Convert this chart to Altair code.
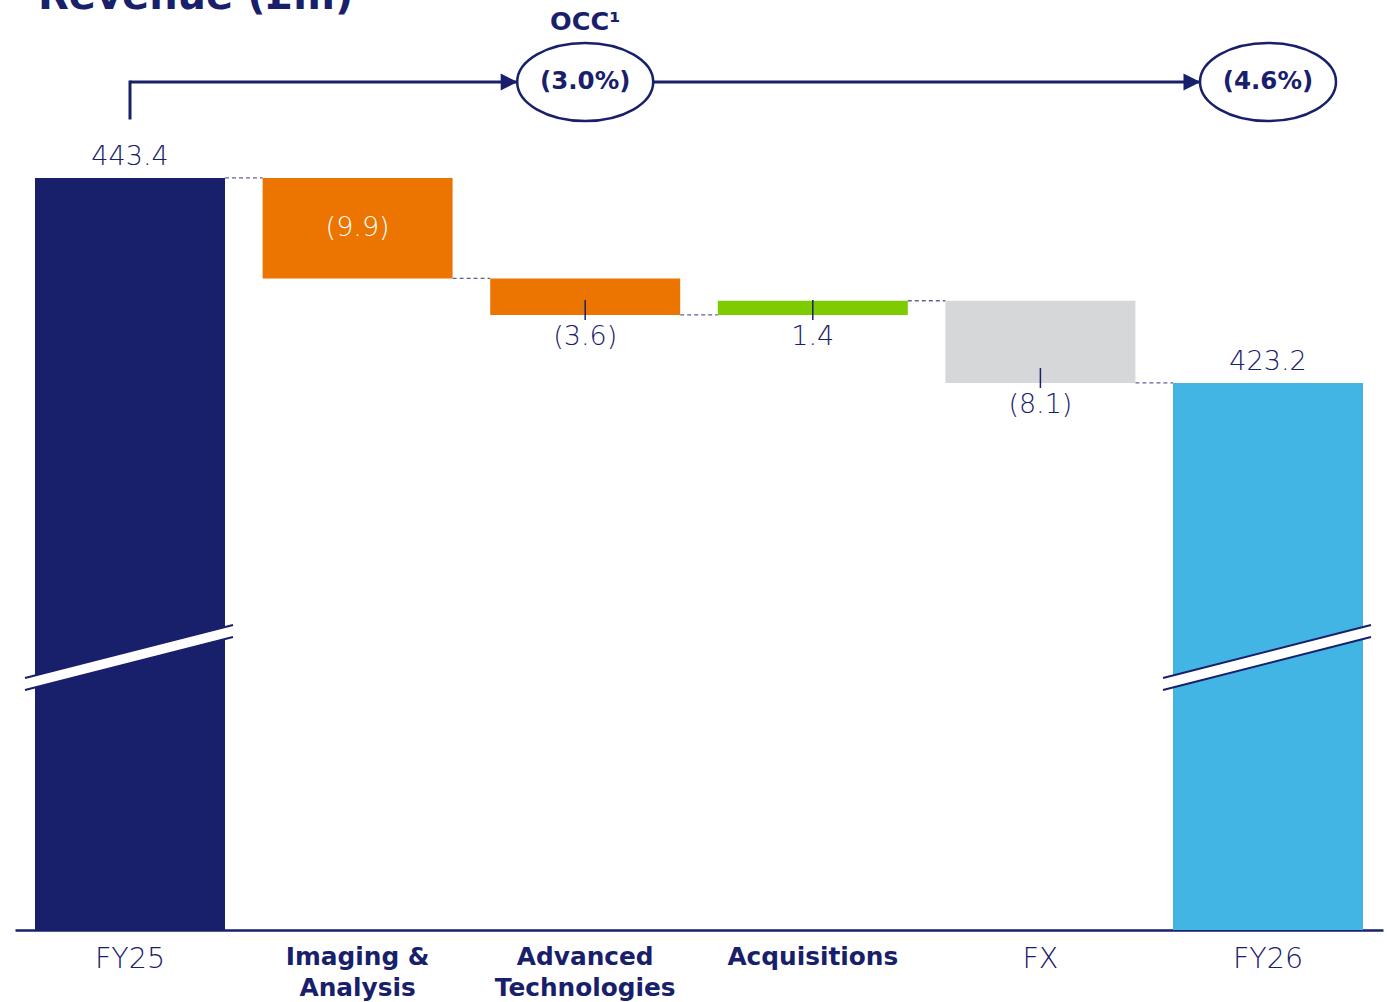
import altair as alt
import pandas as pd

# ---------------- data ----------------
categories = ["FY25", "Imaging & Analysis", "Advanced Technologies", "Acquisitions", "FX", "FY26"]
values = [443.4, -9.9, -3.6, 1.4, -8.1, 423.2]
kinds = ["total", "delta", "delta", "delta", "delta", "total"]
value_labels = ["443.4", "(9.9)", "(3.6)", "1.4", "(8.1)", "423.2"]
label_places = ["above", "inside", "below", "below", "below", "above"]
bar_colors = ["#19206B", "#EB7500", "#EB7500", "#7DCB00", "#D6D7D9", "#42B5E5"]
bold_categories = ["Imaging & Analysis", "Advanced Technologies", "Acquisitions"]
label_lines = {"Imaging & Analysis": ["Imaging &", "Analysis"],
               "Advanced Technologies": ["Advanced", "Technologies"]}
broken_categories = ["FY25", "FY26"]
occ_categories = ["Advanced Technologies", "FY26"]
occ_values = ["(3.0%)", "(4.6%)"]
occ_title = "OCC¹"
title_text = "Revenue (£m)"

NAVY = "#19206B"
FONT = "DejaVu Sans"
LIGHT = 300

# ---------------- tables ----------------
rows = []
running = 0.0
for c, v, k, lab, pl, col in zip(categories, values, kinds, value_labels, label_places, bar_colors):
    if k == "total":
        start, end = 0.0, v
        running = v
    else:
        start, end = running, running + v
        running = end
    rows.append(dict(cat=c, start=start, end=end, low=min(start, end), high=max(start, end),
                     mid=(start + end) / 2, label=lab, place=pl, color=col))
df = pd.DataFrame(rows)

conn = pd.DataFrame([dict(cat=categories[i], to=categories[i + 1], level=rows[i]["end"])
                     for i in range(len(categories) - 1)])
brk = df[df["cat"].isin(broken_categories)]
occ = pd.DataFrame({"cat": occ_categories, "txt": occ_values})

# ---------------- scales / axis ----------------
yscale = alt.Scale(domain=[369.3, 460.93], zero=False, nice=False)
xscale = alt.Scale(domain=categories, paddingInner=0.1652, paddingOuter=0.0879)

expr = "datum.value"
for k_, v_ in label_lines.items():
    arr = "[" + ",".join("'%s'" % s for s in v_) + "]"
    expr = "datum.value == '%s' ? %s : (%s)" % (k_, arr, expr)
bold_test = "indexof([" + ",".join("'%s'" % s for s in bold_categories) + "], datum.value) >= 0"

xaxis = alt.Axis(title=None, domainColor=NAVY, domainWidth=2.5, ticks=False, labelAngle=0,
                 labelColor=NAVY, labelFont=FONT, labelPadding=14,
                 labelLineHeight=31, labelLimit=400, labelOverlap=False, labelExpr=expr,
                 labelFontSize={"condition": {"test": bold_test, "value": 24.8}, "value": 28.5},
                 labelFontWeight={"condition": {"test": bold_test, "value": "bold"}, "value": LIGHT},
                 grid=False)


def xenc(field="cat", band=None):
    if band is None:
        return alt.X(field + ":N", scale=xscale, axis=xaxis, title=None)
    return alt.X(field + ":N", scale=xscale, axis=xaxis, title=None, bandPosition=band)


def yenc(field):
    return alt.Y(field + ":Q", scale=yscale, axis=None)


# ---------------- layers ----------------
connectors = alt.Chart(conn).mark_rule(strokeDash=[4, 3], strokeWidth=1.3, color=NAVY, opacity=0.7).encode(
    x=xenc(band=1), x2=alt.X2("to:N", bandPosition=0), y=yenc("level"))

bars = alt.Chart(df).mark_bar(clip=True).encode(
    x=xenc(), y=yenc("start"), y2="end:Q", color=alt.Color("color:N", scale=None))

brk_white = alt.Chart(brk).mark_rule(color="white", strokeWidth=11, strokeCap="butt",
                                     xOffset=-10, x2Offset=8).encode(
    x=xenc(band=0), x2=alt.X2("cat:N", bandPosition=1), y=alt.value(684), y2=alt.value(631))
brk_top = alt.Chart(brk).mark_rule(color=NAVY, strokeWidth=2,
                                   xOffset=-10, x2Offset=8, yOffset=-6, y2Offset=-6).encode(
    x=xenc(band=0), x2=alt.X2("cat:N", bandPosition=1), y=alt.value(684), y2=alt.value(631))
brk_bot = alt.Chart(brk).mark_rule(color=NAVY, strokeWidth=2,
                                   xOffset=-10, x2Offset=8, yOffset=6, y2Offset=6).encode(
    x=xenc(band=0), x2=alt.X2("cat:N", bandPosition=1), y=alt.value(684), y2=alt.value(631))

below = df[df["place"] == "below"]
ticks = alt.Chart(below).mark_rule(color=NAVY, strokeWidth=1.5, yOffset=-15, y2Offset=5).encode(
    x=xenc(), y=yenc("low"), y2="low:Q")
lab_below = alt.Chart(below).mark_text(font=FONT, fontSize=27, fontWeight=LIGHT, color=NAVY,
                                       baseline="alphabetic", dy=30).encode(
    x=xenc(), y=yenc("low"), text="label:N")
lab_above = alt.Chart(df[df["place"] == "above"]).mark_text(
    font=FONT, fontSize=27, fontWeight=LIGHT, color=NAVY, baseline="alphabetic", dy=-13).encode(
    x=xenc(), y=yenc("end"), text="label:N")
lab_inside = alt.Chart(df[df["place"] == "inside"]).mark_text(
    font=FONT, fontSize=27, fontWeight=LIGHT, color="white", baseline="middle").encode(
    x=xenc(), y=yenc("mid"), text="label:N")

# OCC annotation
vert = alt.Chart(pd.DataFrame({"cat": [categories[0]]})).mark_rule(
    color=NAVY, strokeWidth=3, strokeCap="square").encode(x=xenc(), y=alt.value(118), y2=alt.value(82))
horiz = alt.Chart(pd.DataFrame({"cat": [categories[0]], "to": [categories[-1]]})).mark_rule(
    color=NAVY, strokeWidth=3).encode(x=xenc(band=0.5), x2=alt.X2("to:N", bandPosition=0.5), y=alt.value(82))

e = 0.5735
k = 0.5523
ellipse_path = ("M -1 0 C -1 {a} {b} {c} 0 {c} C {k} {c} 1 {a} 1 0 "
                "C 1 {na} {k} {e} 0 {e} C {b} {e} -1 {na} -1 0 Z").format(
    a=-k * e, b=-k, c=-e, k=k, na=k * e, e=e)
ellipses = alt.Chart(occ).mark_point(shape=ellipse_path, size=136 ** 2, filled=True, fill="white",
                                     stroke=NAVY, strokeWidth=2.5, opacity=1).encode(
    x=xenc(), y=alt.value(82))
arrows = alt.Chart(occ).mark_point(shape="M -1 -1 L 1 0 L -1 1 Z", size=289, filled=True,
                                   color=NAVY, opacity=1, xOffset=-76).encode(x=xenc(), y=alt.value(82))
occ_txt = alt.Chart(occ).mark_text(font=FONT, fontSize=24.5, fontWeight="bold", color=NAVY,
                                   baseline="middle").encode(x=xenc(), y=alt.value(82), text="txt:N")
occ_head = alt.Chart(pd.DataFrame({"cat": [occ_categories[0]], "t": [occ_title]})).mark_text(
    font=FONT, fontSize=25.5, fontWeight="bold", color=NAVY, baseline="middle").encode(
    x=xenc(), y=alt.value(22), text="t:N")

title = alt.Chart(pd.DataFrame({"t": [title_text]})).mark_text(
    font=FONT, fontSize=40, fontWeight="bold", color=NAVY, align="left", baseline="alphabetic").encode(
    x=alt.value(23), y=alt.value(9), text="t:N")

chart = alt.layer(
    connectors, bars, brk_white, brk_top, brk_bot, ticks, lab_below, lab_above, lab_inside,
    horiz, vert, ellipses, arrows, occ_txt, occ_head, title
).properties(
    width=1368, height=930,
    padding={"left": 15, "top": 0, "right": 4, "bottom": 72},
    autosize=alt.AutoSizeParams(type="none"),
    background="white",
).configure_view(stroke=None)

chart.save("out.html", embed_options={"renderer": "svg", "actions": False})
